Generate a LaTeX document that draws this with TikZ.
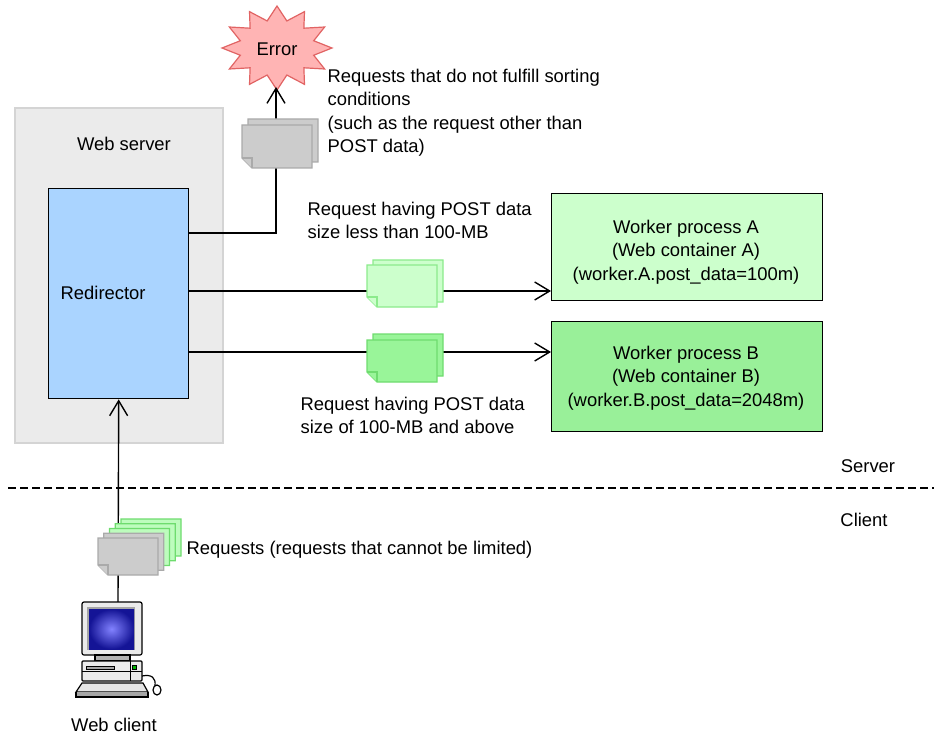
\documentclass[tikz,border=0pt]{standalone}
\usepackage{fontspec}
\setmainfont{Liberation Sans}
\usetikzlibrary{arrows.meta}

\definecolor{srvfill}{RGB}{235,235,235}
\definecolor{srvline}{RGB}{212,212,212}
\definecolor{redirfill}{RGB}{170,212,255}
\definecolor{wafill}{RGB}{204,255,204}
\definecolor{wbfill}{RGB}{153,240,153}
\definecolor{pagegray}{RGB}{204,204,204}
\definecolor{pagegrayline}{RGB}{170,170,170}
\definecolor{pagelight}{RGB}{204,255,204}
\definecolor{pagelightline}{RGB}{140,235,140}
\definecolor{pagemid}{RGB}{153,245,153}
\definecolor{pagemidline}{RGB}{110,220,110}
\definecolor{starfill}{RGB}{255,180,180}
\definecolor{starline}{RGB}{225,100,100}

% one sheet of paper with a folded lower-left corner: x, y (top left), width, height, style
\newcommand\sheet[5]{%
  \filldraw[#5] (#1,#2) -- ++(#3,0) -- ++(0,#4) -- ++({-(#3)+10},0) -- ++(-10,-10) -- cycle;
  \draw[#5] (#1,{#2+#4-10}) -- ++(10,0) -- ++(0,10);}

\begin{document}
\begin{tikzpicture}[x=1pt,y=-1pt,line width=1.4pt,
  every node/.style={font=\fontsize{18.4}{23.5}\selectfont,inner sep=0pt},
  arr/.style={-{Straight Barb[length=15pt,width=18pt,line width=1.4pt]}},
  boxnode/.style={draw,anchor=north west,inner sep=0pt},
  graypage/.style={fill=pagegray,draw=pagegrayline,line width=1.2pt},
  lightpage/.style={fill=pagelight,draw=pagelightline,line width=1.2pt},
  midpage/.style={fill=pagemid,draw=pagemidline,line width=1.2pt},
  clientgreen/.style={fill=pagelight!70!pagemid,draw=pagemidline,line width=1.2pt}]
\useasboundingbox (0,0) rectangle (934,735);

% server and worker boxes
\node[boxnode,draw=srvline,fill=srvfill,line width=1.6pt,minimum width=208pt,minimum height=335pt] (web) at (14,107) {};
\node (webtxt) at (124,144) {Web server};
\node[boxnode,fill=redirfill,minimum width=140pt,minimum height=210pt] (redir) at (48,188) {};
\node[anchor=west] (redirtxt) at (60,293) {Redirector};
\node[boxnode,fill=wafill,minimum width=271pt,minimum height=107pt] (wa) at (551,193) {};
\node[align=center] (watxt) at (686,252) {Worker process A\\(Web container A)\\(worker.A.post\_data=100m)};
\node[boxnode,fill=wbfill,minimum width=271pt,minimum height=110pt] (wb) at (551,321) {};
\node[align=center] (wbtxt) at (686,378) {Worker process B\\(Web container B)\\(worker.B.post\_data=2048m)};

% error burst: twelve spikes
\filldraw[fill=starfill,draw=starline,line width=1.2pt]
  plot[samples at={0,...,23},variable=\k]
  ({277+ifthenelse(mod(\k,2)==0,55,38)*cos(90+\k*15)},
   {48+ifthenelse(mod(\k,2)==0,42,28)*sin(90+\k*15)}) -- cycle;
\node (error) at (277,49) {Error};
\coordinate (errtip) at (276,87);

% connectors
\coordinate (rerr) at (188,233);
\coordinate (ra) at (188,291);
\coordinate (rb) at (188,352);
\coordinate (pc) at (118,602);
\draw[arr] (rerr) -| (errtip);
\draw[arr] (ra) -- (ra -| wa.west);
\draw[arr] (rb) -- (rb -| wb.west);
\draw[arr] (pc) -- (redir.south);

% request sheets on the connectors
\sheet{248}{119}{70}{43}{graypage}
\sheet{242}{125}{70}{43}{graypage}
\sheet{373}{260}{70}{42}{lightpage}
\sheet{367}{265}{70}{42}{lightpage}
\sheet{373}{334}{70}{42}{midpage}
\sheet{367}{340}{70}{42}{midpage}
\sheet{121}{519}{60}{37}{clientgreen}
\sheet{115.25}{523.75}{60}{37}{clientgreen}
\sheet{109.5}{528.5}{60}{37}{clientgreen}
\sheet{103.75}{533.25}{60}{37}{graypage}
\sheet{98}{538}{60}{37}{graypage}

% labels
\node[anchor=north west,align=left] (errtxt) at (327,68) {Requests that do not fulfill sorting\\conditions\\(such as the request other than\\POST data)};
\node[anchor=north west,align=left] (atxt) at (307,201) {Request having POST data\\size less than 100-MB};
\node[anchor=north west,align=left] (btxt) at (300,396) {Request having POST data\\size of 100-MB and above};
\node[anchor=west] (reqtxt) at (186,550) {Requests (requests that cannot be limited)};
\node (srvtxt) at (868,466) {Server};
\node (clitxt) at (864,520) {Client};
\node (clienttxt) at (114,725) {Web client};

% server / client boundary
\draw[line width=1.5pt,dash pattern=on 8pt off 4pt] (8,488) -- (934,488);

% client computer
\begin{scope}[line width=1.2pt]
  \draw[fill=black!8,rounded corners=2pt] (82,602) rectangle (142,655);
  \fill[gray!70] (87,607) rectangle (135,650);
  \shade[inner color={rgb,255:red,130;green,130;blue,255},outer color={rgb,255:red,20;green,20;blue,150}] (89,609) rectangle (134,649);
  \draw[fill=gray!60] (95,655) rectangle (130,661);
  \draw[fill=black!8,rounded corners=1pt] (82,661) rectangle (142,681);
  \draw[line width=0.8pt] (82,671) -- (142,671);
  \draw[line width=0.8pt] (130,661) -- (130,681);
  \draw[fill=gray!70,line width=0.8pt] (86,666) rectangle (114,669);
  \draw[fill=green!70!black,line width=0.6pt] (132.5,665.5) rectangle (136.5,669.5);
  \draw[fill=black!10] (82,683) -- (143,683) -- (148,692) -- (76,692) -- cycle;
  \fill[gray!70] (76,692) rectangle (148,697);
  \draw (76,692) -- (76,697) -- (148,697) -- (148,692);
  \draw (142,676) .. controls (152,674) and (156,678) .. (155,686);
  \draw[fill=white] (157,690) ellipse (4pt and 5pt);
\end{scope}
\end{tikzpicture}
\end{document}
